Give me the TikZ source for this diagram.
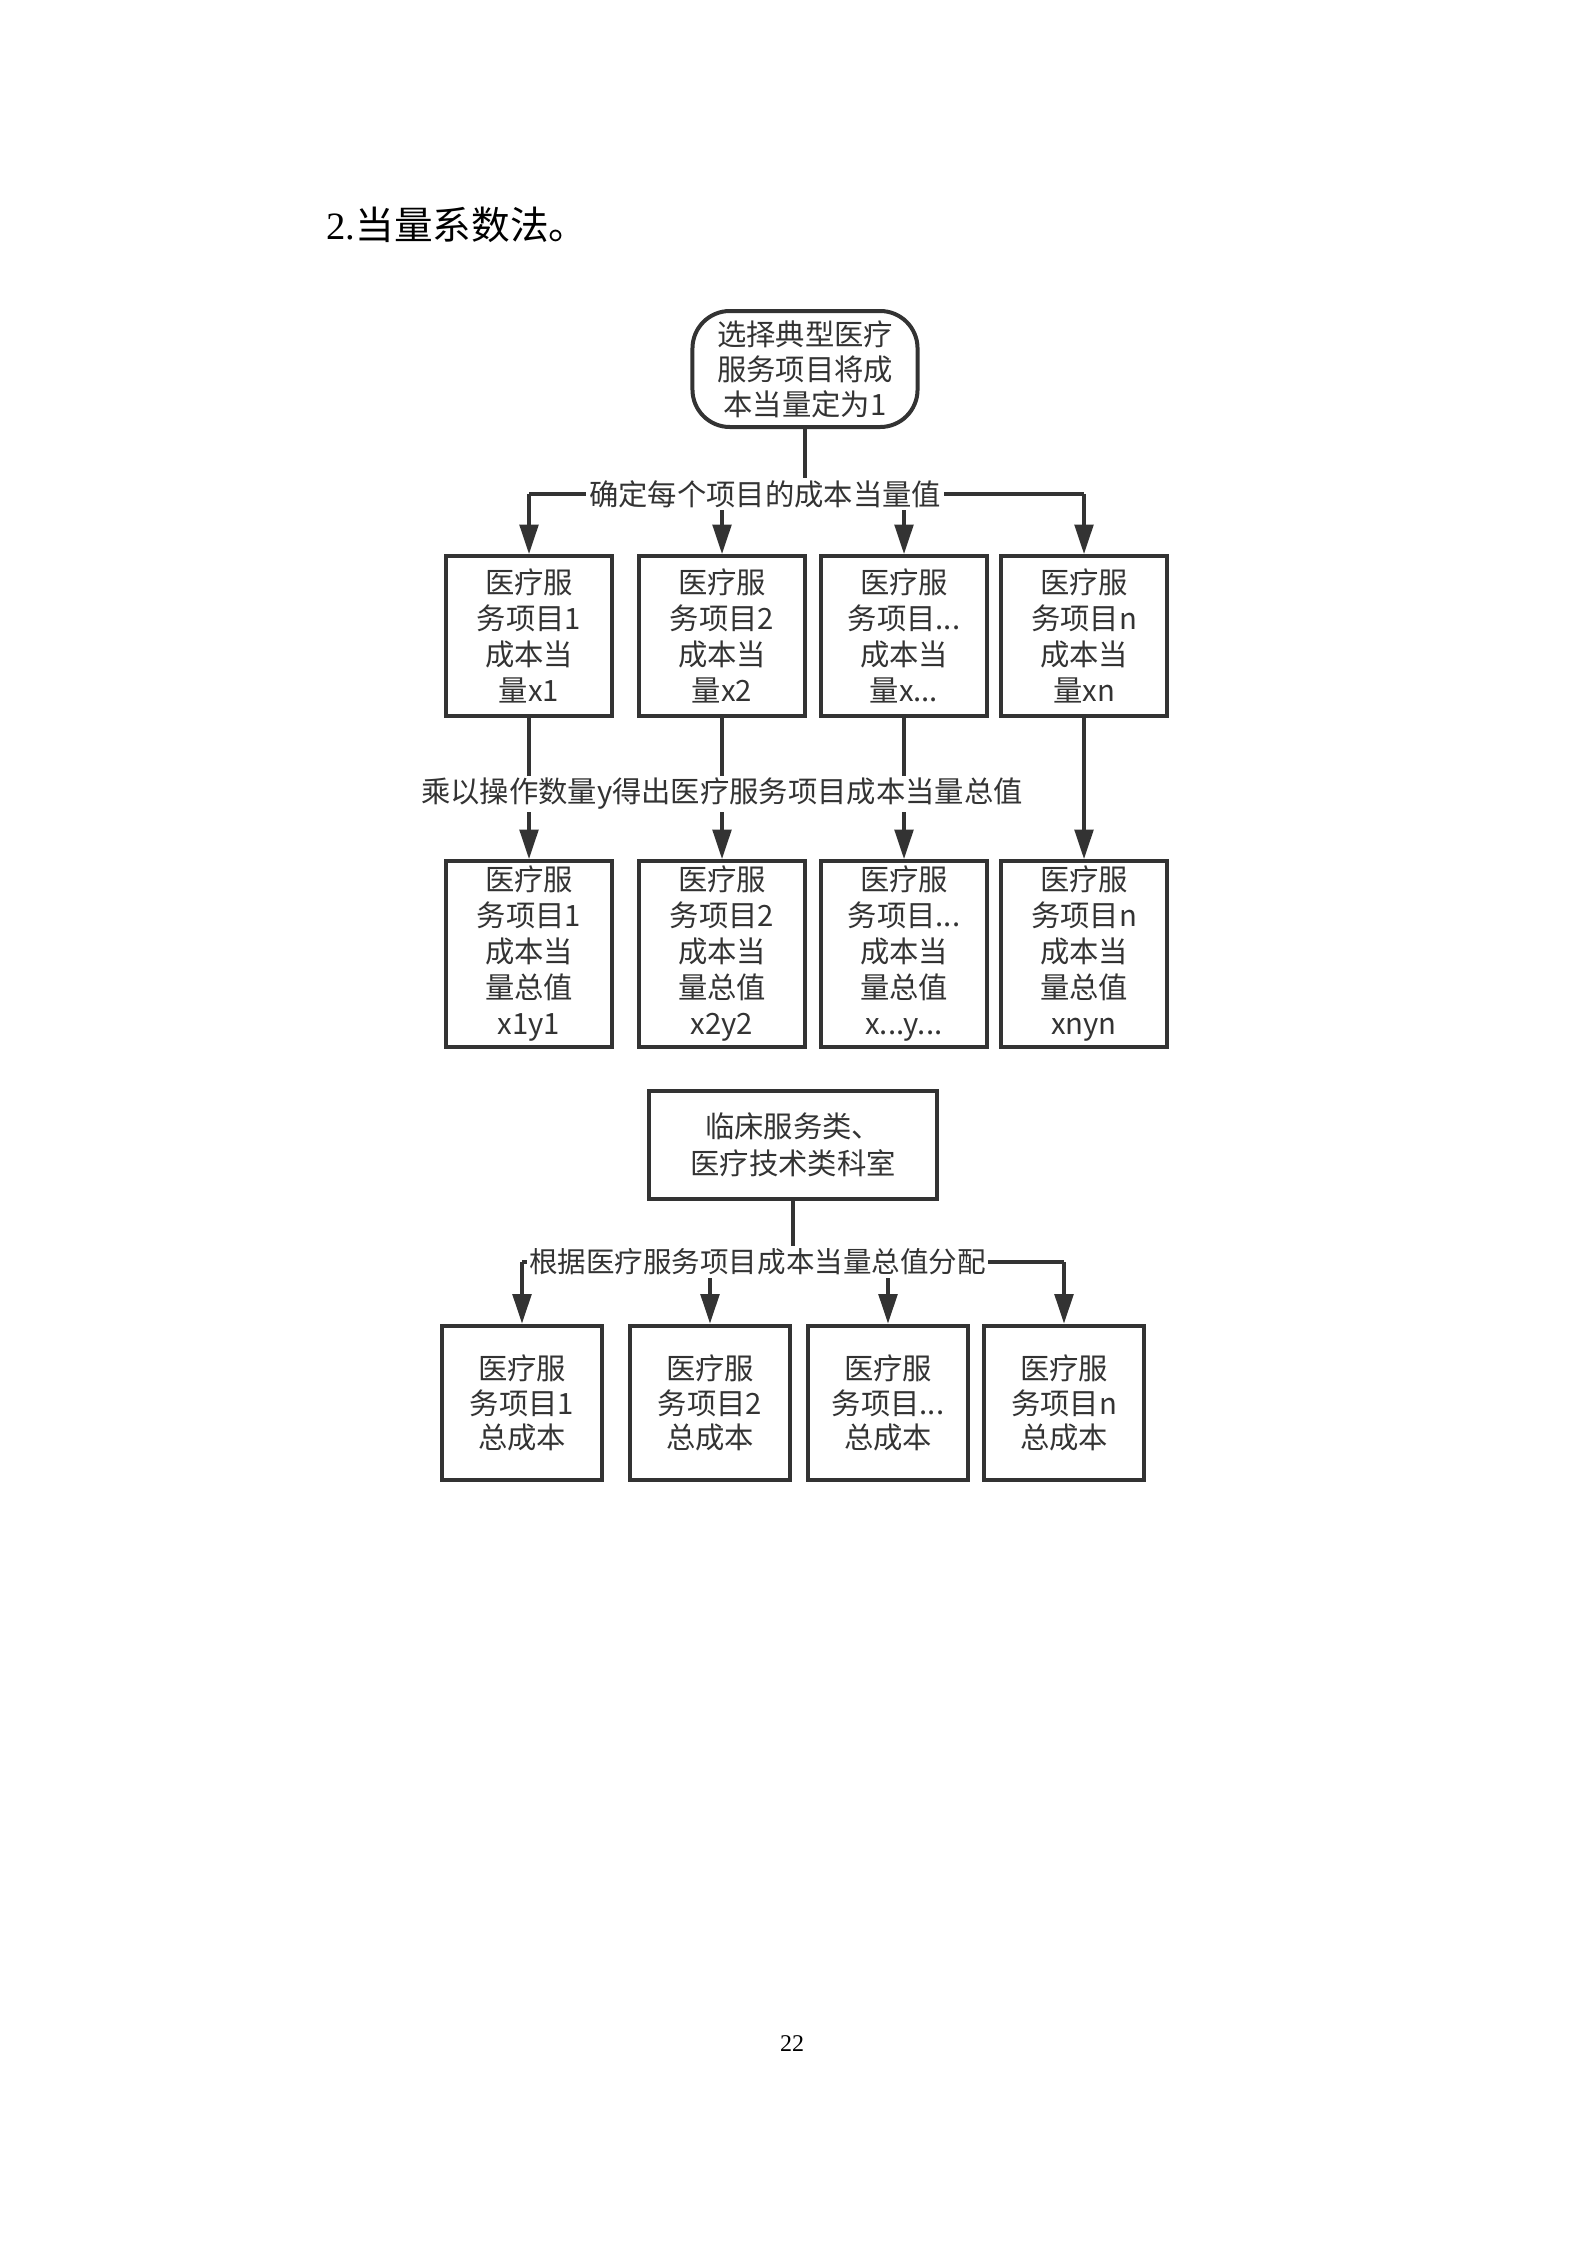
\documentclass[tikz,border=0pt]{standalone}
\usepackage{fontspec}
\setmainfont{Liberation Serif}
\newfontfamily\cjk{Noto Sans CJK SC}
\usetikzlibrary{
  arrows.meta,
  positioning
}
\definecolor{ink}{HTML}{333333}
\definecolor{paper}{HTML}{FFFFFF}
\tikzset{
  flow/.style={
    -{Triangle[length=11pt,width=7pt]},
    line width=1.2pt,
    draw=ink
  },
  link/.style={
    line width=1.2pt,
    draw=ink
  },
  arrowlabel/.style={
    fill=paper,
    inner sep=1pt,
    text=ink,
    font=\cjk\fontsize{11}{13}\selectfont
  },
  startbox/.style={
    draw=ink,
    line width=1.5pt,
    rounded corners=14pt,
    minimum width=84.4pt,
    minimum height=43.5pt,
    inner sep=1pt,
    align=center,
    text=ink,
    font=\cjk\fontsize{11}{13.1}\selectfont
  },
  itembox/.style={
    draw=ink,
    line width=1.5pt,
    minimum width=61.9pt,
    minimum height=60pt,
    inner sep=1pt,
    align=center,
    text=ink,
    font=\cjk\fontsize{11}{13.5}\selectfont
  },
  sumbox/.style={
    itembox,
    minimum height=69.75pt
  },
  costbox/.style={
    itembox,
    minimum width=60pt,
    minimum height=58.1pt,
    font=\cjk\fontsize{11}{12.9}\selectfont
  },
  deptbox/.style={
    itembox,
    minimum width=108pt,
    minimum height=40.5pt,
    font=\cjk\fontsize{11}{13.9}\selectfont
  }
}

\begin{document}
\begin{tikzpicture}[x=0.375pt, y=-0.375pt]
  \useasboundingbox (0,0) rectangle (1587,2245);
  \node[anchor=base west, inner sep=0pt, font=\fontsize{14.5}{16}\selectfont]
    (title) at (326,239) {2.{\cjk 当量系数法。}};
  % top part
  \node[startbox] (start) at (805,369) {选择典型医疗\\服务项目将成\\本当量定为1};
  \coordinate (split1) at (805,494);
  \node[itembox] (r1a) at (529,636) {医疗服\\务项目1\\成本当\\量x1};
  \node[itembox] (r1b) at (722,636) {医疗服\\务项目2\\成本当\\量x2};
  \node[itembox] (r1c) at (904,636) {医疗服\\务项目...\\成本当\\量x...};
  \node[itembox] (r1d) at (1084,636) {医疗服\\务项目n\\成本当\\量xn};
  \node[sumbox] (r2a) at (529,954) {医疗服\\务项目1\\成本当\\量总值\\x1y1};
  \node[sumbox] (r2b) at (722,954) {医疗服\\务项目2\\成本当\\量总值\\x2y2};
  \node[sumbox] (r2c) at (904,954) {医疗服\\务项目...\\成本当\\量总值\\x...y...};
  \node[sumbox] (r2d) at (1084,954) {医疗服\\务项目n\\成本当\\量总值\\xnyn};
  \draw[link] (start.south) -- (split1);
  \draw[link] (split1 -| r1a.north) -- (split1 -| r1d.north);
  \draw[flow] (split1 -| r1a.north) -- (r1a.north);
  \draw[flow] (split1 -| r1b.north) -- (r1b.north);
  \draw[flow] (split1 -| r1c.north) -- (r1c.north);
  \draw[flow] (split1 -| r1d.north) -- (r1d.north);
  \node[arrowlabel] (eqlabel) at (765,494) {确定每个项目的成本当量值};
  \draw[flow] (r1a.south) -- (r2a.north);
  \draw[flow] (r1b.south) -- (r2b.north);
  \draw[flow] (r1c.south) -- (r2c.north);
  \draw[flow] (r1d.south) -- (r2d.north);
  \node[arrowlabel] (multlabel) at (722,794) {乘以操作数量y得出医疗服务项目成本当量总值};
  % bottom part
  \node[deptbox] (dept) at (793,1145) {临床服务类、\\医疗技术类科室};
  \coordinate (split2) at (793,1262);
  \node[costbox] (c1) at (522,1403) {医疗服\\务项目1\\总成本};
  \node[costbox] (c2) at (710,1403) {医疗服\\务项目2\\总成本};
  \node[costbox] (c3) at (888,1403) {医疗服\\务项目...\\总成本};
  \node[costbox] (c4) at (1064,1403) {医疗服\\务项目n\\总成本};
  \draw[link] (dept.south) -- (split2);
  \draw[link] (split2 -| c1.north) -- (split2 -| c4.north);
  \draw[flow] (split2 -| c1.north) -- (c1.north);
  \draw[flow] (split2 -| c2.north) -- (c2.north);
  \draw[flow] (split2 -| c3.north) -- (c3.north);
  \draw[flow] (split2 -| c4.north) -- (c4.north);
  \node[arrowlabel, anchor=west, font=\cjk\fontsize{10.7}{13}\selectfont]
    (alloclabel) at (526,1262) {根据医疗服务项目成本当量总值分配};
  \node[font=\fontsize{9}{10}\selectfont] (pagenum) at (792,2044) {22};
\end{tikzpicture}
\end{document}
